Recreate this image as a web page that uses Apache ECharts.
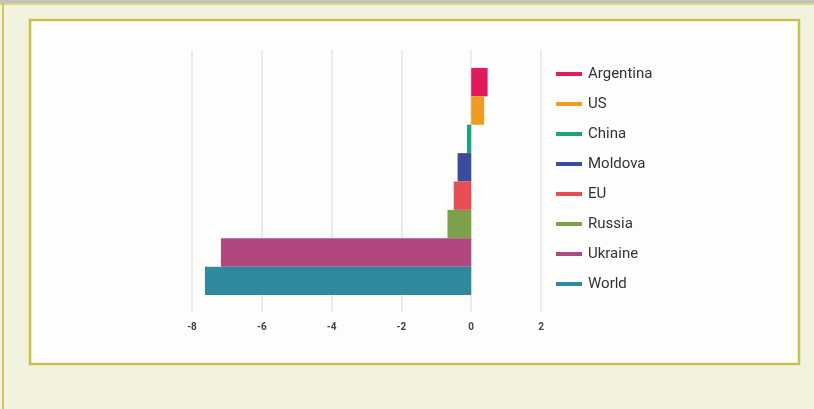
<!DOCTYPE html>
<html>
<head>
<meta charset="utf-8">
<script src="https://cdn.jsdelivr.net/npm/echarts@6/dist/echarts.min.js"></script>
<style>
html,body{margin:0;padding:0;background:#f3f2df;}
#c{width:814px;height:409px;}
</style>
</head>
<body>
<div id="c"></div>
<script>
const categories = ['Argentina','US','China','Moldova','EU','Russia','Ukraine','World'];
const values = [0.47, 0.37, -0.12, -0.39, -0.5, -0.68, -7.17, -7.63];
const colors = ['#e2195f','#ef9b22','#1ba47c','#3b4c9e','#e84d56','#7fa04a','#b0477e','#2f8a9f'];
const xTicks = [-8, -6, -4, -2, 0, 2];

const chart = echarts.init(document.getElementById('c'));
const series = categories.map((name, i) => ({
  name: name,
  type: 'bar',
  stack: 'all',
  xAxisIndex: 1,
  yAxisIndex: 1,
  barWidth: '100%',
  itemStyle: { color: colors[i] },
  data: categories.map((c, j) => j === i ? values[i] : '-')
}));
series.push({
  type: 'line', xAxisIndex: 0, yAxisIndex: 0, data: [], silent: true
});

chart.setOption({
  animation: false,
  backgroundColor: '#f3f2df',
  graphic: [
    { type: 'rect', shape: { x: 0, y: 0, width: 814, height: 3 }, style: { fill: '#c3c2b2' }, z: -10 },
    { type: 'rect', shape: { x: 0, y: 3, width: 814, height: 2 }, style: { fill: '#d6d38a' }, z: -10 },
    { type: 'rect', shape: { x: 2, y: 3, width: 2, height: 406 }, style: { fill: '#cfcb5a' }, z: -10 },
    { type: 'rect', shape: { x: 30, y: 20, width: 769, height: 344 }, style: { fill: '#fdfdfb', stroke: '#c5c150', lineWidth: 2.5 }, z: -10 }
  ],
  grid: [
    { left: 192, width: 349, top: 50, height: 262 },
    { left: 192, width: 349, top: 68, height: 227 }
  ],
  xAxis: [
    {
      gridIndex: 0, type: 'value', min: -8, max: 2, interval: 2,
      axisLine: { show: false }, axisTick: { show: false },
      splitLine: { show: true, lineStyle: { color: '#e4e4e4', width: 1.5 } },
      axisLabel: { margin: 10, color: '#444', fontSize: 10, fontWeight: 'bold', fontFamily: 'Roboto' }
    },
    {
      gridIndex: 1, type: 'value', min: -8, max: 2, show: false
    }
  ],
  yAxis: [
    { gridIndex: 0, type: 'category', data: ['a'], show: false },
    { gridIndex: 1, type: 'category', data: categories, inverse: true, show: false }
  ],
  legend: {
    orient: 'vertical',
    left: 556,
    top: 66,
    padding: 0,
    itemGap: 14,
    itemWidth: 26,
    itemHeight: 4,
    icon: 'rect',
    data: categories,
    textStyle: { fontSize: 15, lineHeight: 16, color: '#333', fontFamily: 'Roboto', padding: [0, 0, 0, 1] }
  },
  series: series
});
</script>
</body>
</html>
